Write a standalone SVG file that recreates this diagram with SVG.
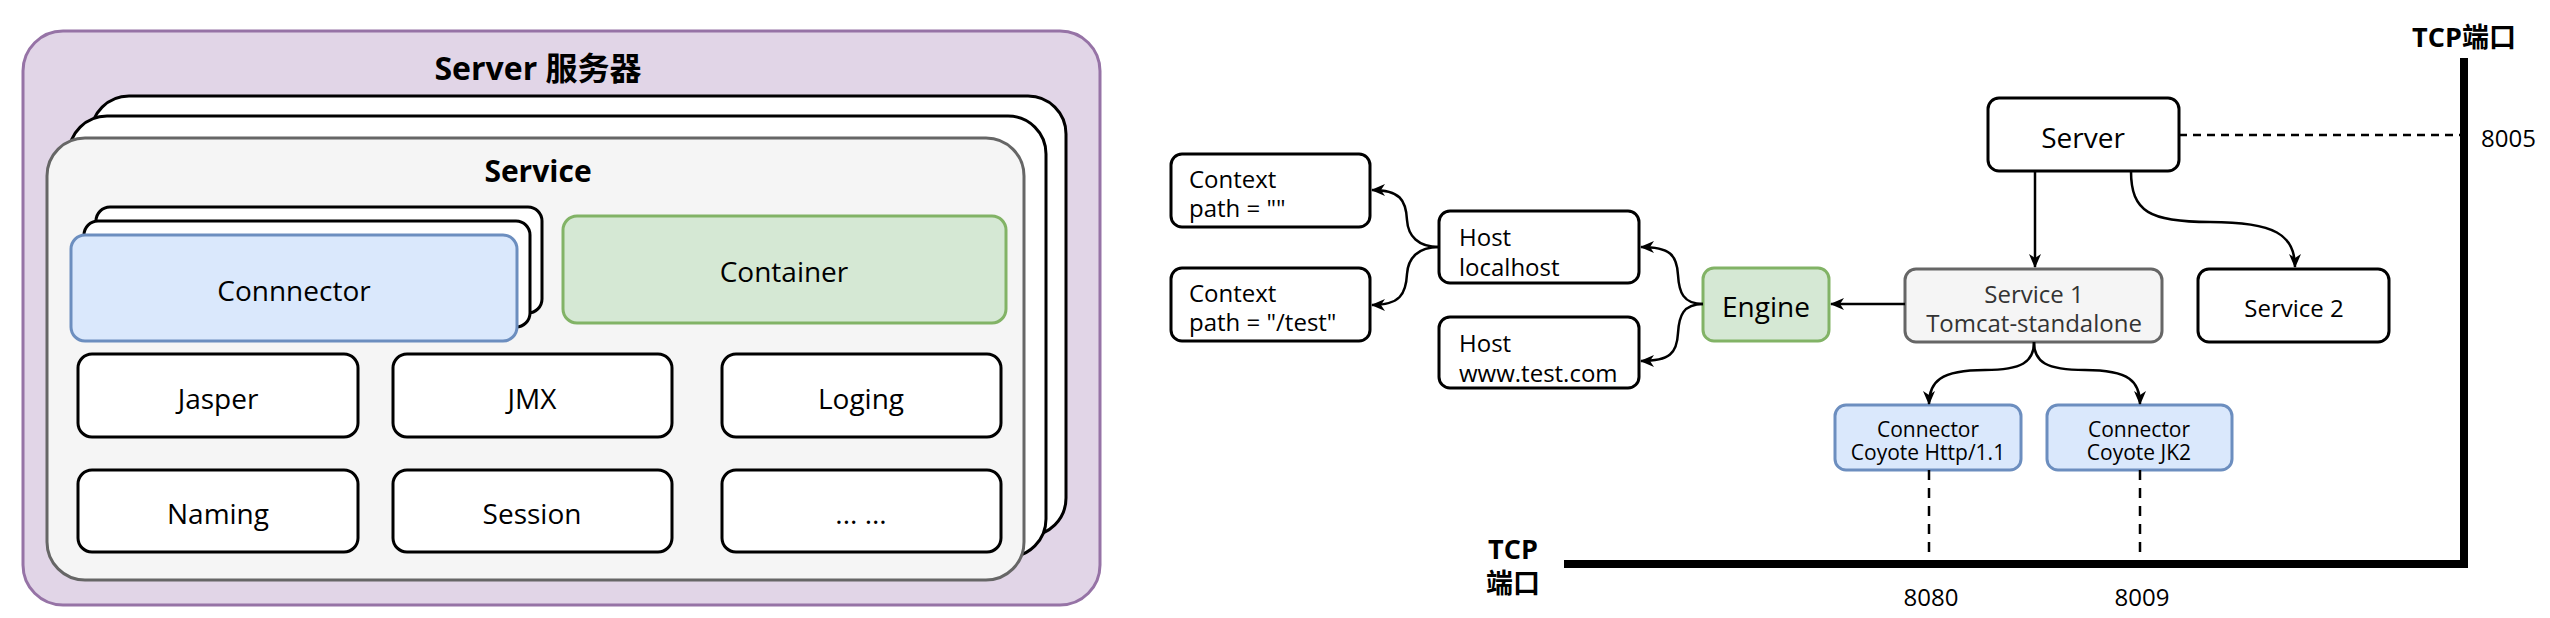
<svg xmlns="http://www.w3.org/2000/svg" width="2550" height="618" viewBox="0 0 2550 618">
<defs>
<style>
text{font-family:"Open Sans","Noto Sans CJK SC",sans-serif;fill:#000}
.c{text-anchor:middle}
.b{font-weight:bold}
.f28{font-size:28px}
.f24{font-size:24px}
.f21{font-size:21px}
.box{fill:#fff;stroke:#000;stroke-width:3}
.grey{fill:#f5f5f5;stroke:#666;stroke-width:3}
.blue{fill:#dae8fc;stroke:#6c8ebf;stroke-width:3}
.green{fill:#d5e8d4;stroke:#82b366;stroke-width:3}
.edge{fill:none;stroke:#000;stroke-width:2.5;marker-end:url(#arr)}
.dash{fill:none;stroke:#000;stroke-width:2.5}
</style>
<marker id="arr" viewBox="0 0 14 12" refX="13" refY="6" markerWidth="14" markerHeight="12" markerUnits="userSpaceOnUse" orient="auto">
<path d="M0,0 L14,6 L0,12 L4,6 Z" fill="#000"/>
</marker>
</defs>
<rect width="2550" height="618" fill="#fff"/>

<!-- Left panel -->
<g id="server-outer">
<rect x="23" y="31" width="1077" height="574" rx="40" fill="#e1d5e7" stroke="#9673a6" stroke-width="3"/>
<text x="538" y="80" class="c b" style="font-size:32px">Server 服务器</text>
</g>
<g id="service-stack">
<rect class="box" x="91" y="96" width="975" height="440" rx="38"/>
<rect class="box" x="69" y="116" width="977" height="441" rx="38"/>
<rect class="grey" x="47" y="138" width="977" height="442" rx="38"/>
<text x="538" y="182" class="c b" style="font-size:30px">Service</text>
</g>
<g id="connector-stack">
<rect class="box" x="96" y="207" width="446" height="106" rx="14"/>
<rect class="box" x="84" y="221" width="446" height="106" rx="14"/>
<rect class="blue" x="71" y="235" width="446" height="106" rx="14"/>
<text x="294" y="301" class="c f28">Connnector</text>
</g>
<g id="container">
<rect class="green" x="563" y="216" width="443" height="107" rx="14"/>
<text x="784" y="282" class="c f28">Container</text>
</g>
<g id="jasper"><rect class="box" x="78" y="354" width="280" height="83" rx="14"/><text x="218" y="409" class="c f28">Jasper</text></g>
<g id="jmx"><rect class="box" x="393" y="354" width="279" height="83" rx="14"/><text x="532" y="409" class="c f28">JMX</text></g>
<g id="loging"><rect class="box" x="722" y="354" width="279" height="83" rx="14"/><text x="861" y="409" class="c f28">Loging</text></g>
<g id="naming"><rect class="box" x="78" y="470" width="280" height="82" rx="14"/><text x="218" y="524" class="c f28">Naming</text></g>
<g id="session"><rect class="box" x="393" y="470" width="279" height="82" rx="14"/><text x="532" y="524" class="c f28">Session</text></g>
<g id="more"><rect class="box" x="722" y="470" width="279" height="82" rx="14"/><text x="861" y="524" class="c f28">... ...</text></g>

<!-- Right panel nodes -->
<g id="r-server"><rect class="box" x="1988" y="98" width="191" height="73" rx="11"/><text x="2083" y="148" class="c f28">Server</text></g>
<g id="r-service1"><rect class="grey" x="1905" y="269" width="257" height="73" rx="11"/>
<text x="2034" y="303" class="c f24" style="fill:#333">Service 1</text>
<text x="2034" y="332" class="c f24" style="fill:#333">Tomcat-standalone</text></g>
<g id="r-service2"><rect class="box" x="2198" y="269" width="191" height="73" rx="11"/><text x="2294" y="317" class="c f24">Service 2</text></g>
<g id="r-engine"><rect class="green" x="1703" y="268" width="126" height="73" rx="11"/><text x="1766" y="317" class="c f28">Engine</text></g>
<g id="r-host1"><rect class="box" x="1439" y="211" width="200" height="72" rx="11"/>
<text x="1459" y="246" class="f24">Host</text><text x="1459" y="276" class="f24">localhost</text></g>
<g id="r-host2"><rect class="box" x="1439" y="317" width="200" height="71" rx="11"/>
<text x="1459" y="352" class="f24">Host</text><text x="1459" y="382" class="f24">www.test.com</text></g>
<g id="r-context1"><rect class="box" x="1171" y="154" width="199" height="73" rx="11"/>
<text x="1189" y="188" class="f24">Context</text><text x="1189" y="217" class="f24">path = ""</text></g>
<g id="r-context2"><rect class="box" x="1171" y="268" width="199" height="73" rx="11"/>
<text x="1189" y="302" class="f24">Context</text><text x="1189" y="331" class="f24">path = "/test"</text></g>
<g id="r-conn-http"><rect class="blue" x="1835" y="405" width="186" height="65" rx="11"/>
<text x="1928" y="437" class="c f21">Connector</text><text x="1928" y="460" class="c f21">Coyote Http/1.1</text></g>
<g id="r-conn-jk2"><rect class="blue" x="2047" y="405" width="185" height="65" rx="11"/>
<text x="2139" y="437" class="c f21">Connector</text><text x="2139" y="460" class="c f21">Coyote JK2</text></g>

<g id="tcp-axis">
<path d="M1564,564 L2464,564 L2464,58" fill="none" stroke="#000" stroke-width="8"/>
<text x="2464" y="47" class="c b" style="font-size:27px">TCP端口</text>
<text x="1513" y="559" class="c b" style="font-size:27px">TCP</text>
<text x="1513" y="593" class="c b" style="font-size:27px">端口</text>
<text x="2481" y="147" class="f24">8005</text>
<text x="1931" y="606" class="c f24">8080</text>
<text x="2142" y="606" class="c f24">8009</text>
</g>

<g id="connectors">
<path class="edge" d="M2035,171 L2035,267"/>
<path class="edge" d="M2131,171 C2131,212 2150,222 2210,222 C2275,222 2295,235 2295,267"/>
<path class="edge" d="M1905,304 L1831,304"/>
<path class="edge" d="M1703,304 C1683,304 1679,292 1678,275 C1677,255 1670,247 1641,247"/>
<path class="edge" d="M1703,304 C1683,304 1679,316 1678,333 C1677,353 1670,361 1641,361"/>
<path class="edge" d="M1439,247 C1418,247 1408,236 1407,220 C1406,200 1400,190 1372,190"/>
<path class="edge" d="M1439,247 C1418,247 1408,258 1407,274 C1406,294 1400,305 1372,305"/>
<path class="edge" d="M2034,342 C2034,362 2022,370 1985,370 C1940,370 1929,382 1929,404"/>
<path class="edge" d="M2034,342 C2034,362 2046,370 2085,370 C2130,370 2140,382 2140,404"/>
<path class="dash" d="M2179,135 L2460,135" stroke-width="3" stroke-dasharray="8 6"/>
<path class="dash" d="M1929,470 L1929,561" stroke-dasharray="10 8"/>
<path class="dash" d="M2140,470 L2140,561" stroke-dasharray="10 8"/>
</g>
</svg>
